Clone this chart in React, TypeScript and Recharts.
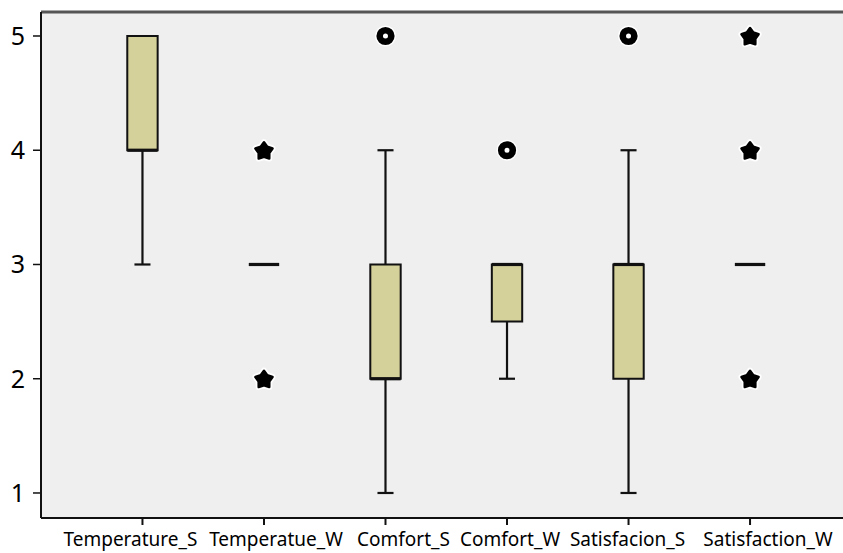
import React from 'react'
import { ComposedChart, XAxis, YAxis, CartesianGrid, Scatter, ReferenceArea, ReferenceLine } from 'recharts'

// variables on the x axis
const categories = ['Temperature_S', 'Temperatue_W', 'Comfort_S', 'Comfort_W', 'Satisfacion_S', 'Satisfaction_W']

// five-number summaries per variable
const mins = [3, 3, 1, 2, 1, 3]
const q1s = [4, 3, 2, 2.5, 2, 3]
const medians = [4, 3, 2, 3, 3, 3]
const q3s = [5, 3, 3, 3, 3, 3]
const maxs = [5, 3, 4, 3, 4, 3]

// outliers (circles) and extremes (stars): [category index, value]
const outliers = [[2, 5], [3, 4], [4, 5]]
const extremes = [[1, 4], [1, 2], [5, 5], [5, 4], [5, 2]]

const yTicks = [1, 2, 3, 4, 5]

const X_MIN = -0.835
const X_MAX = 5.765
const Y_MIN = 0.781
const Y_MAX = 5.21

const BOX_HALF = 0.125
const CAP_HALF = 0.066
const BOX_FILL = '#D5D19B'
const INK = '#111'
const FONT = '"Noto Sans", sans-serif'

// SPSS packs the long labels, so they sit a little off their ticks
const labelShift = [-12, 12, 18, 3, -1, 18]

const outlierData = outliers.map(([x, y]) => ({ x, y }))
const extremeData = extremes.map(([x, y]) => ({ x, y }))

const Ring = ({ cx, cy }: any) => (
  <g>
    <circle cx={cx} cy={cy} r={10.5} fill="#fff" />
    <circle cx={cx} cy={cy} r={5.8} fill="#fff" stroke="#000" strokeWidth={6.6} />
  </g>
)

const starPath = (cx: number, cy: number, outer: number, inner: number) => {
  const pts: string[] = []
  for (let k = 0; k < 10; k++) {
    const r = k % 2 === 0 ? outer : inner
    const a = -Math.PI / 2 + (k * Math.PI) / 5
    pts.push(`${(cx + r * Math.cos(a)).toFixed(2)},${(cy + r * Math.sin(a)).toFixed(2)}`)
  }
  return `M${pts.join('L')}Z`
}

const Star = ({ cx, cy }: any) => {
  const d = starPath(cx, cy + 1, 9, 5.6)
  return (
    <g>
      <path d={d} fill="#fff" stroke="#fff" strokeWidth={6} strokeLinejoin="round" />
      <path d={d} fill="#000" stroke="#000" strokeWidth={2.5} strokeLinejoin="round" />
    </g>
  )
}

const XTick = ({ x, y, payload }: any) => (
  <text
    x={x + labelShift[payload.value]}
    y={y}
    dy="0.71em"
    textAnchor="middle"
    fontFamily={FONT}
    fontSize={19}
    fill="#000"
  >
    {categories[payload.value]}
  </text>
)

export default function App () {
  return (
    <div style={{ position: 'absolute', left: 0, top: 0, background: '#fff' }}>
      <ComposedChart width={843} height={553} margin={{ top: 12, right: 0, bottom: 0, left: 0 }}>
        <CartesianGrid horizontal={false} vertical={false} fill="#EFEFEF" />
        <XAxis
          type="number"
          dataKey="x"
          domain={[X_MIN, X_MAX]}
          ticks={categories.map((_, i) => i)}
          allowDataOverflow
          height={35}
          tickSize={7}
          tickMargin={8}
          tick={<XTick />}
          axisLine={{ stroke: INK, strokeWidth: 2 }}
          tickLine={{ stroke: INK, strokeWidth: 2 }}
        />
        <YAxis
          type="number"
          dataKey="y"
          domain={[Y_MIN, Y_MAX]}
          ticks={yTicks}
          allowDataOverflow
          width={41}
          tickSize={8}
          tickMargin={8}
          tick={{ fontFamily: FONT, fontSize: 25, fill: '#000' }}
          axisLine={{ stroke: INK, strokeWidth: 2 }}
          tickLine={{ stroke: INK, strokeWidth: 1.5 }}
        />
        <ReferenceLine y={Y_MAX} stroke="#555" strokeWidth={3} />

        {categories.map((c, i) => (
          <React.Fragment key={c}>
            {maxs[i] > q3s[i] && (
              <ReferenceLine segment={[{ x: i, y: q3s[i] }, { x: i, y: maxs[i] }]} stroke={INK} strokeWidth={2.2} />
            )}
            {maxs[i] > q3s[i] && (
              <ReferenceLine segment={[{ x: i - CAP_HALF, y: maxs[i] }, { x: i + CAP_HALF, y: maxs[i] }]} stroke={INK} strokeWidth={2.2} />
            )}
            {mins[i] < q1s[i] && (
              <ReferenceLine segment={[{ x: i, y: mins[i] }, { x: i, y: q1s[i] }]} stroke={INK} strokeWidth={2.2} />
            )}
            {mins[i] < q1s[i] && (
              <ReferenceLine segment={[{ x: i - CAP_HALF, y: mins[i] }, { x: i + CAP_HALF, y: mins[i] }]} stroke={INK} strokeWidth={2.2} />
            )}
            {q3s[i] > q1s[i] && (
              <ReferenceArea
                x1={i - BOX_HALF}
                x2={i + BOX_HALF}
                y1={q1s[i]}
                y2={q3s[i]}
                fill={BOX_FILL}
                fillOpacity={1}
                stroke={INK}
                strokeWidth={2}
              />
            )}
          </React.Fragment>
        ))}
        {categories.map((c, i) => (
          <ReferenceLine
            key={`med-${c}`}
            segment={[{ x: i - BOX_HALF, y: medians[i] }, { x: i + BOX_HALF, y: medians[i] }]}
            stroke={INK}
            strokeWidth={3.2}
          />
        ))}

        <Scatter data={outlierData} dataKey="y" shape={<Ring />} isAnimationActive={false} />
        <Scatter data={extremeData} dataKey="y" shape={<Star />} isAnimationActive={false} />
      </ComposedChart>
    </div>
  )
}
